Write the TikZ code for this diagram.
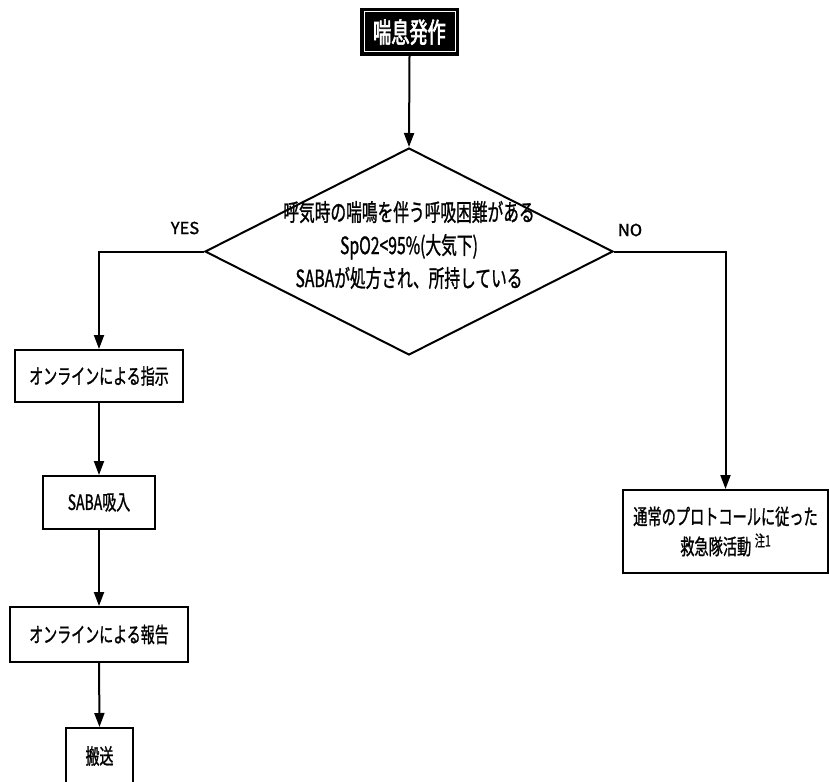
\documentclass[tikz,border=0pt]{standalone}
\usepackage{fontspec}
\newfontfamily\jp[FakeStretch=0.66,FakeBold=1]{Noto Sans CJK JP}
\newfontfamily\jpb[FakeStretch=0.66,FakeBold=2.2]{Noto Sans CJK JP}
\newfontfamily\lat[FakeBold=1.5]{Noto Sans CJK JP}
\usetikzlibrary{arrows.meta,shapes.geometric}
\tikzset{
  box/.style={draw=black, line width=2pt, fill=white, inner sep=0pt, align=center,
    font=\jp\fontsize{21.2}{22}\selectfont},
  arr/.style={line width=2pt, -{Triangle[length=14pt,width=10pt]}},
  lbl/.style={font=\lat\fontsize{16.5}{18}\selectfont, inner sep=0pt}
}
\begin{document}
\begin{tikzpicture}[x=1pt,y=-1pt]
\useasboundingbox[fill=white] (0,0) rectangle (829,781);
% top box
\node[draw=black, line width=2pt, fill=black, text=white, minimum width=97pt, minimum height=46pt, inner sep=0pt,
  font=\jpb\fontsize{27.5}{28}\selectfont] (top) at (409.5,32) {喘息発作};
\draw[white, line width=1pt] ([shift={(4pt,-4pt)}]top.north west) rectangle ([shift={(-4pt,4pt)}]top.south east);
% diamond
\node[diamond, draw=black, line width=2pt, minimum width=408pt, minimum height=207pt, inner sep=0pt] (d) at (409,251.5) {};
\node[align=center, inner sep=0pt, font=\jp\fontsize{23.8}{33}\selectfont] (dt) at (409,245) {呼気時の喘鳴を伴う呼吸困難がある\\SpO2<95\%(大気下)\\SABAが処方され、所持している};
% left boxes
\node[box, minimum width=168pt, minimum height=52pt] (b1) at (99,376) {オンラインによる指示};
\node[box, minimum width=112pt, minimum height=53pt] (b2) at (99,502.5) {SABA吸入};
\node[box, minimum width=178pt, minimum height=55pt] (b3) at (99,634.5) {オンラインによる報告};
\node[box, minimum width=67pt, minimum height=56pt] (b4) at (99.5,756) {搬送};
% right box
\node[box, minimum width=205pt, minimum height=83pt, font=\jp\fontsize{21.5}{30}\selectfont] (b5) at (725.5,531.5) {通常のプロトコールに従った\\救急隊活動\,\raisebox{0.7ex}{\fontsize{15.5}{16}\selectfont 注1}};
% labels
\node[lbl] (yes) at (185,228) {YES};
\node[lbl] (no) at (630,230) {NO};
% connectors
\draw[arr] (top.south) -- (d.north);
\draw[arr] (d.west) -| (b1.north);
\draw[arr] (d.east) -| (b5.north);
\draw[arr] (b1.south) -- (b2.north);
\draw[arr] (b2.south) -- (b3.north);
\draw[arr] (b3.south) -- (b4.north);
\end{tikzpicture}
\end{document}
